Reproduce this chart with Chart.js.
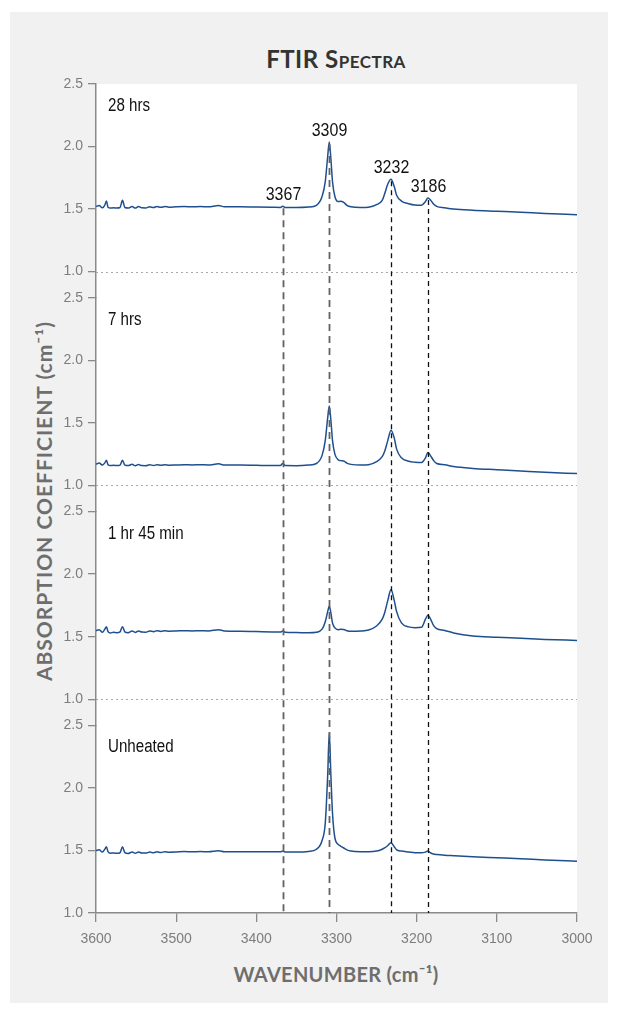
<!DOCTYPE html>
<html>
<head>
<meta charset="utf-8">
<script src="https://cdn.jsdelivr.net/npm/chart.js@4.4.1/dist/chart.umd.min.js"></script>
<style>
  body { margin: 0; background: #fff; }
  #frame { position: absolute; left: 10px; top: 12px; width: 598px; height: 991px; background: #f1f1f1; }
  #wrap { position: absolute; left: 0; top: 0; width: 618px; height: 1009px; }
  .title { position: absolute; left: 96px; width: 480px; top: 44px; text-align: center;
           font: bold 24px Lato, sans-serif; color: #333; font-variant: small-caps; letter-spacing: 0.5px; }
  .xtitle { position: absolute; left: 96px; width: 480px; top: 962px; text-align: center;
            font: bold 20px Lato, sans-serif; color: #6e6e6e; letter-spacing: 0.3px; }
  .ytitle { position: absolute; left: 43px; top: 501px; transform: translate(-50%, -50%) rotate(-90deg);
            white-space: nowrap; font: bold 21px Lato, sans-serif; color: #6e6e6e; letter-spacing: 1px; }
</style>
</head>
<body>
<div id="frame"></div>
<div class="title">FTIR Spectra</div>
<div class="ytitle">ABSORPTION COEFFICIENT (cm⁻¹)</div>
<div class="xtitle">WAVENUMBER (cm⁻¹)</div>
<div id="wrap"><canvas id="ftirChart"></canvas></div>
<script>
// wavenumber grid (cm-1)
const wavenumbers = [
  3600, 3596, 3592, 3589, 3587, 3585, 3582, 3578, 3574, 3570,
  3567, 3564, 3560, 3555, 3551, 3547, 3543, 3538, 3533, 3528,
  3524, 3519, 3514, 3509, 3500, 3490, 3480, 3470, 3460, 3447,
  3440, 3420, 3400, 3380, 3370, 3367, 3364, 3350, 3335, 3325,
  3318, 3314, 3311, 3309, 3307, 3305, 3302, 3298, 3295, 3291,
  3287, 3282, 3270, 3260, 3250, 3243, 3240, 3236, 3232, 3228,
  3225, 3219, 3210, 3202, 3194, 3189, 3186, 3183, 3179, 3175,
  3165, 3154, 3130, 3100, 3070, 3040, 3000
];

const hrs28 = [
  1.520, 1.528, 1.510, 1.532, 1.565, 1.515, 1.508, 1.510, 1.508, 1.512,
  1.570, 1.512, 1.508, 1.520, 1.508, 1.520, 1.510, 1.509, 1.518, 1.512,
  1.520, 1.514, 1.520, 1.515, 1.518, 1.520, 1.518, 1.520, 1.518, 1.528,
  1.518, 1.518, 1.516, 1.514, 1.513, 1.522, 1.513, 1.512, 1.516, 1.530,
  1.600, 1.720, 1.920, 2.037, 1.900, 1.720, 1.600, 1.560, 1.562, 1.553,
  1.530, 1.518, 1.513, 1.515, 1.535, 1.570, 1.620, 1.700, 1.738, 1.680,
  1.610, 1.564, 1.543, 1.532, 1.530, 1.560, 1.588, 1.575, 1.540, 1.521,
  1.510, 1.500, 1.490, 1.482, 1.474, 1.465, 1.455
];

const hrs7 = [
  1.170, 1.178, 1.162, 1.180, 1.200, 1.165, 1.158, 1.160, 1.158, 1.162,
  1.200, 1.162, 1.158, 1.168, 1.157, 1.166, 1.158, 1.157, 1.165, 1.159,
  1.165, 1.160, 1.165, 1.161, 1.163, 1.165, 1.163, 1.165, 1.163, 1.172,
  1.163, 1.162, 1.160, 1.158, 1.158, 1.175, 1.158, 1.157, 1.162, 1.175,
  1.240, 1.360, 1.540, 1.634, 1.520, 1.360, 1.250, 1.205, 1.198, 1.195,
  1.178, 1.168, 1.162, 1.165, 1.190, 1.230, 1.270, 1.360, 1.441, 1.380,
  1.290, 1.220, 1.193, 1.185, 1.182, 1.220, 1.262, 1.240, 1.200, 1.175,
  1.165, 1.150, 1.135, 1.125, 1.115, 1.105, 1.094
];

const hr1min45 = [
  1.548, 1.555, 1.535, 1.560, 1.580, 1.540, 1.530, 1.535, 1.532, 1.538,
  1.580, 1.538, 1.532, 1.545, 1.534, 1.546, 1.537, 1.536, 1.545, 1.540,
  1.548, 1.542, 1.548, 1.544, 1.546, 1.548, 1.546, 1.548, 1.546, 1.556,
  1.546, 1.544, 1.541, 1.538, 1.537, 1.545, 1.536, 1.533, 1.531, 1.535,
  1.560, 1.620, 1.700, 1.743, 1.690, 1.610, 1.570, 1.556, 1.560, 1.558,
  1.548, 1.543, 1.545, 1.553, 1.585, 1.640, 1.690, 1.790, 1.877, 1.790,
  1.700, 1.610, 1.578, 1.572, 1.575, 1.640, 1.671, 1.645, 1.590, 1.564,
  1.550, 1.530, 1.505, 1.495, 1.487, 1.478, 1.470
];

const unheated = [
  1.500, 1.505, 1.488, 1.510, 1.530, 1.490, 1.478, 1.480, 1.477, 1.482,
  1.530, 1.482, 1.476, 1.488, 1.478, 1.488, 1.480, 1.479, 1.487, 1.482,
  1.489, 1.484, 1.490, 1.486, 1.488, 1.491, 1.489, 1.491, 1.490, 1.498,
  1.490, 1.490, 1.489, 1.490, 1.489, 1.495, 1.488, 1.487, 1.492, 1.510,
  1.580, 1.720, 2.100, 2.444, 2.100, 1.800, 1.600, 1.550, 1.535, 1.520,
  1.505, 1.495, 1.490, 1.490, 1.495, 1.510, 1.520, 1.540, 1.562, 1.530,
  1.505, 1.495, 1.488, 1.482, 1.481, 1.487, 1.495, 1.482, 1.472, 1.468,
  1.462, 1.458, 1.450, 1.442, 1.434, 1.424, 1.414
];

const panelNames = ['28 hrs', '7 hrs', '1 hr 45 min', 'Unheated'];
const peakPositions = [3367, 3309, 3232, 3186];
const yTicks = [1.0, 1.5, 2.0, 2.5];
const xTicks = [3600, 3500, 3400, 3300, 3200, 3100, 3000];

const panelSeries = [hrs28, hrs7, hr1min45, unheated];
const panelAxes = ['y28', 'y7', 'y1', 'y0'];

Chart.defaults.font.family = '"Liberation Sans", Arial, sans-serif';

function panelAxis(min) {
  return {
    type: 'linear',
    position: 'left',
    stack: 'spectra',
    stackWeight: 2.5 - min,
    min: min,
    max: 2.5,
    afterBuildTicks: axis => { axis.ticks = yTicks.map(v => ({ value: v })); },
    afterFit: axis => { axis.width = 96; },
    grid: { drawOnChartArea: false, drawTicks: true, tickLength: 8, color: '#8a8a8a', lineWidth: 1.3 },
    border: { color: '#8a8a8a', width: 1.5 },
    ticks: { padding: 5, color: '#7d7d7d', font: { size: 14 }, autoSkip: false,
             callback: v => Number(v).toFixed(1) }
  };
}

// bottom panel first: the last stacked axis ends up on top
const scales = {
  x: {
    type: 'linear',
    position: 'bottom',
    min: 3000,
    max: 3600,
    reverse: true,
    afterBuildTicks: axis => { axis.ticks = xTicks.map(v => ({ value: v })); },
    afterFit: axis => { axis.height = 96; },
    grid: { drawOnChartArea: false, tickLength: 9, color: '#8a8a8a', lineWidth: 1.3 },
    border: { color: '#8a8a8a', width: 1.5 },
    ticks: { padding: 9, color: '#7d7d7d', font: { size: 14 }, maxRotation: 0, autoSkip: false,
             callback: v => String(v) }
  },
  y0: panelAxis(1.0),
  y1: panelAxis(0.79),
  y7: panelAxis(0.79),
  y28: panelAxis(0.79)
};

const datasets = panelSeries.map((series, p) => ({
  label: panelNames[p],
  data: wavenumbers.map((w, i) => ({ x: w, y: series[i] })),
  yAxisID: panelAxes[p],
  borderColor: '#1e4f8e',
  borderWidth: 1.5,
  pointRadius: 0,
  cubicInterpolationMode: 'monotone',
  fill: false
}));

// narrow label text: Liberation Sans squeezed horizontally
function narrowText(ctx, text, x, y, size, align) {
  ctx.save();
  ctx.font = size + 'px "Liberation Sans", Arial, sans-serif';
  ctx.textAlign = align;
  ctx.translate(x, y);
  ctx.scale(0.84, 1);
  ctx.fillText(text, 0, 0);
  ctx.restore();
}

const overlay = {
  id: 'overlay',
  beforeDraw(chart) {
    const { ctx, chartArea: a } = chart;
    ctx.save();
    ctx.fillStyle = '#fff';
    ctx.fillRect(a.left, a.top, a.right - a.left, a.bottom - a.top);
    ctx.restore();
  },
  beforeDatasetsDraw(chart) {
    const { ctx, chartArea: a } = chart;
    ctx.save();
    ctx.strokeStyle = '#a8a8a8';
    ctx.lineWidth = 1.2;
    ctx.setLineDash([2, 3]);
    panelAxes.slice(0, 3).forEach(id => {
      const y = Math.round(chart.scales[id].getPixelForValue(1.0)) + 0.5;
      ctx.beginPath();
      ctx.moveTo(a.left, y);
      ctx.lineTo(a.right, y);
      ctx.stroke();
    });
    ctx.restore();
  },
  afterDatasetsDraw(chart) {
    const { ctx, chartArea: a } = chart;
    const xs = chart.scales.x;
    const top = chart.scales.y28;
    ctx.save();
    peakPositions.forEach((wn, k) => {
      const x = Math.round(xs.getPixelForValue(wn)) + 0.5;
      const yVal = top.getPixelForValue(hrs28[wavenumbers.indexOf(wn)]);
      ctx.beginPath();
      if (k < 2) {
        ctx.strokeStyle = '#626262';
        ctx.lineWidth = 1.8;
        ctx.setLineDash([7, 5]);
      } else {
        ctx.strokeStyle = '#111';
        ctx.lineWidth = 1.3;
        ctx.setLineDash([5, 4]);
      }
      ctx.moveTo(x, yVal + 2);
      ctx.lineTo(x, a.bottom);
      ctx.stroke();

      ctx.setLineDash([]);
      ctx.fillStyle = '#111';
      ctx.textBaseline = 'alphabetic';
      narrowText(ctx, String(wn), x, yVal - 6, 19, 'center');
    });

    ctx.fillStyle = '#111';
    ctx.textBaseline = 'middle';
    panelAxes.forEach((id, p) => {
      const y = chart.scales[id].getPixelForValue(2.5) + 22;
      narrowText(ctx, panelNames[p], a.left + 12, y, 18, 'left');
    });
    ctx.restore();
  }
};

new Chart(document.getElementById('ftirChart'), {
  type: 'line',
  data: { datasets },
  options: {
    responsive: true,
    maintainAspectRatio: false,
    animation: false,
    layout: { padding: { top: 84, right: 41, bottom: 0, left: 0 } },
    plugins: { legend: { display: false }, tooltip: { enabled: false }, title: { display: false } },
    scales
  },
  plugins: [overlay]
});
</script>
</body>
</html>
